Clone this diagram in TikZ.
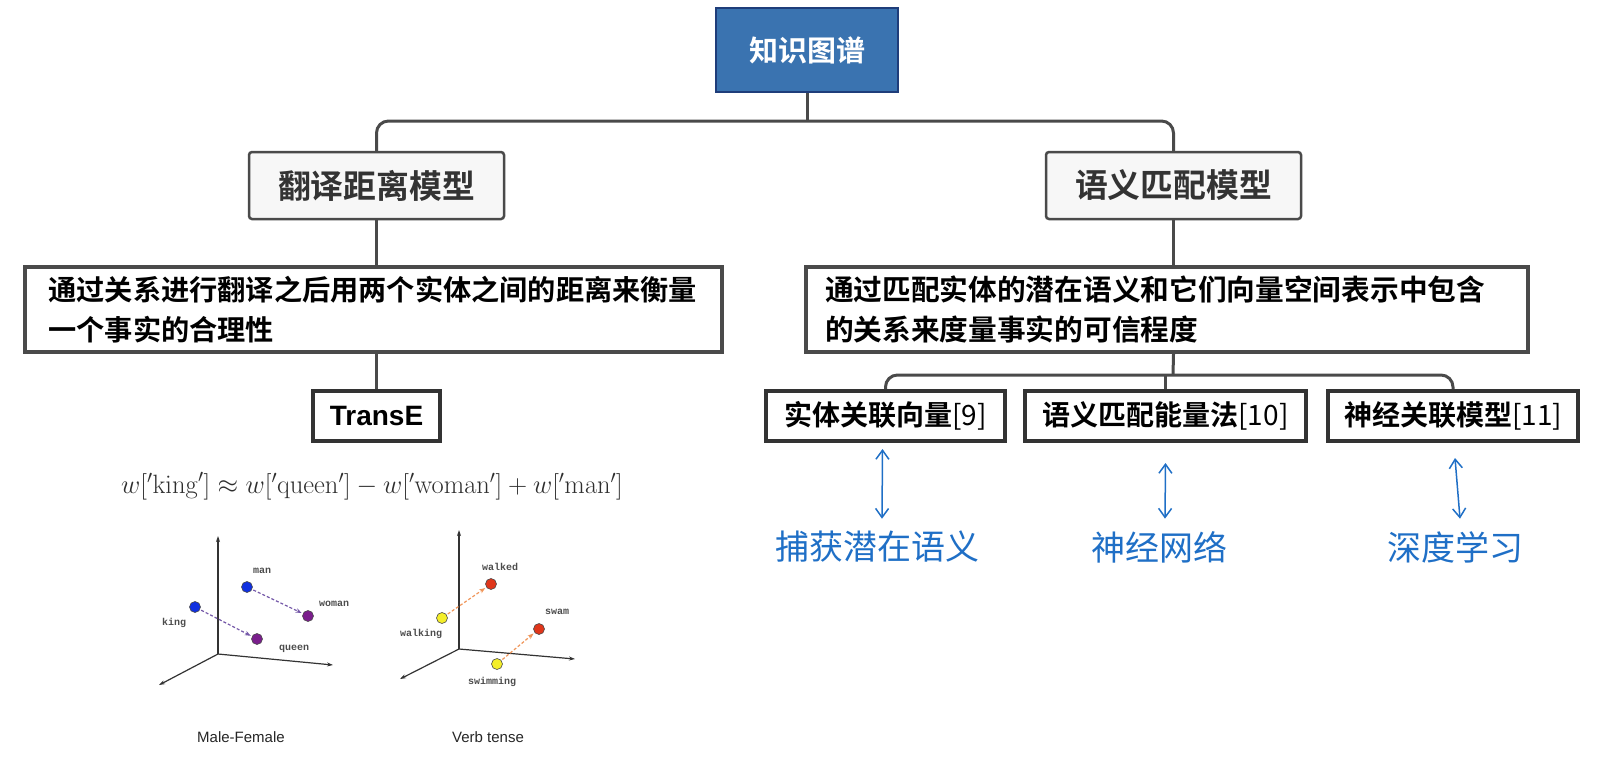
\documentclass[tikz,border=0pt]{standalone}
\usepackage{amsmath}
\usepackage[no-math]{fontspec}
\setmainfont{Liberation Sans}
\newfontfamily\cjk{Noto Sans CJK SC}[BoldFont=* Bold]
\newfontfamily\monof{Liberation Mono}
\usetikzlibrary{calc}
\usetikzlibrary{arrows.meta}
\definecolor{kgblue}{HTML}{3A73B0}
\definecolor{kgedge}{HTML}{1F3D7A}
\definecolor{linegray}{HTML}{4A4A4A}
\definecolor{boxfill}{HTML}{F7F7F7}
\definecolor{noteblue}{HTML}{1F6FC6}
\definecolor{dotblue}{HTML}{1030E0}
\definecolor{dotpurple}{HTML}{7A1E8C}
\definecolor{dotred}{HTML}{E0361A}
\definecolor{dotyellow}{HTML}{F4EE2A}
\definecolor{vecpurple}{HTML}{7458A8}
\definecolor{vecorange}{HTML}{F0965A}

\begin{document}
\begin{tikzpicture}[x=1pt,y=-1pt]
	\tikzset{
		edge/.style={draw=linegray, line width=3pt, rounded corners=12pt},
		kgbox/.style={draw=kgedge, fill=kgblue, line width=2pt, text=white, inner sep=0pt,
			minimum width=182pt, minimum height=84pt, font=\cjk\bfseries\fontsize{29}{35}\selectfont},
		modelbox/.style={draw=linegray, fill=boxfill, line width=2.5pt, rounded corners=3pt, text=black!80,
			inner sep=0pt, minimum width=255pt, minimum height=67pt, font=\cjk\bfseries\fontsize{32.8}{38}\selectfont},
		descbox/.style={draw=linegray, fill=white, line width=4pt, align=left, inner ysep=0pt,
			minimum height=85pt, font=\cjk\bfseries\fontsize{28.7}{40}\selectfont},
		leafbox/.style={draw=black!80, fill=white, line width=4pt, inner sep=0pt,
			minimum height=50pt, font=\cjk\bfseries\fontsize{28}{34}\selectfont},
		note/.style={text=noteblue, font=\cjk\fontsize{34}{40}\selectfont},
		twoway/.style={draw=noteblue, line width=1.5pt, {Straight Barb[length=9pt,width=13pt]}-{Straight Barb[length=9pt,width=13pt]}},
		axis/.style={draw=black!80, line width=1.2pt, -{Stealth[length=6pt,width=4pt]}},
		vec/.style={line width=1.2pt, dash pattern=on 3pt off 2pt, shorten <=7pt, shorten >=7pt, -{Stealth[length=6pt]}},
		dot/.style={draw=black!70, line width=0.6pt},
		word/.style={text=black!70, font=\monof\bfseries\fontsize{10}{12}\selectfont},
		caption/.style={text=black!85, font=\fontsize{15}{18}\selectfont}
	}
	\useasboundingbox (0,0) rectangle (1624,766);
	% tree
	\node[kgbox] (kg) at (807,50) {知识图谱};
	\node[modelbox] (fy) at (376.5,185.5) {翻译距离模型};
	\node[modelbox] (yy) at (1173.5,185.5) {语义匹配模型};
	\node[descbox, text width=650pt, inner xsep=23.5pt, font=\cjk\bfseries\fontsize{28.2}{40}\selectfont] (ldesc) at (373.5,309.5)
		{通过关系进行翻译之后用两个实体之间的距离来衡量\\一个事实的合理性};
	\node[descbox, text width=684pt, inner xsep=19pt] (rdesc) at (1167,309.5)
		{通过匹配实体的潜在语义和它们向量空间表示中包含\\的关系来度量事实的可信程度};
	\node[leafbox, minimum width=127pt, font=\bfseries\fontsize{28}{34}\selectfont] (te) at (376.5,415.5) {TransE};
	\node[leafbox, minimum width=239pt] (b1) at (885.5,416) {实体关联向量{\mdseries[9]}};
	\node[leafbox, minimum width=281pt] (b2) at (1165.5,416) {语义匹配能量法{\mdseries[10]}};
	\node[leafbox, minimum width=250pt] (b3) at (1453,416) {神经关联模型{\mdseries[11]}};
	\coordinate (bar) at (807,121);
	\coordinate (bar2) at (1173,375);
	\draw[edge] (kg.south) -- (bar);
	\draw[edge] (fy.north) |- (bar) -| (yy.north);
	\draw[edge] (fy.south) -- (fy.south |- ldesc.north);
	\draw[edge] (fy.south |- ldesc.south) -- (te.north);
	\draw[edge] (yy.south) -- (yy.south |- rdesc.north);
	\draw[edge] (yy.south |- rdesc.south) -- (bar2);
	\draw[edge] (b1.north) |- (bar2) -| (b3.north);
	\draw[edge] (b2.north) -- (b2.north |- bar2);
	% notes
	\node[note] (n1) at (877,547) {捕获潜在语义};
	\node[note] (n2) at (1159,547) {神经网络};
	\node[note] (n3) at (1455,547) {深度学习};
	\draw[twoway] ([xshift=-3pt,yshift=-6pt]b1.south) -- ([xshift=5pt,yshift=9pt]n1.north);
	\draw[twoway] ([yshift=-20pt]b2.south) -- ([xshift=6pt,yshift=9pt]n2.north);
	\draw[twoway] ([xshift=2pt,yshift=-15pt]b3.south) -- ([xshift=5pt,yshift=9pt]n3.north);
	% word vectors
	\node[text=black!82, font=\fontsize{23}{28}\selectfont, scale=1.065] (eq) at (372,486)
		{$w[{}'\mathrm{king}'] \approx w[{}'\mathrm{queen}'] - w[{}'\mathrm{woman}'] + w[{}'\mathrm{man}']$};
	\coordinate (mo) at (218,654);
	\draw[axis] (mo) -- (218,536);
	\draw[axis] (mo) -- (333,665);
	\draw[axis] (mo) -- (159,685);
	\coordinate (king) at (195,607);
	\coordinate (man) at (247,587);
	\coordinate (woman) at (308,616);
	\coordinate (queen) at (257,639);
	\draw[vec, vecpurple] (king) -- (queen);
	\draw[vec, vecpurple] (man) -- (woman);
	\filldraw[dot, fill=dotblue] (king) circle (5.5pt);
	\filldraw[dot, fill=dotblue] (man) circle (5.5pt);
	\filldraw[dot, fill=dotpurple] (woman) circle (5.5pt);
	\filldraw[dot, fill=dotpurple] (queen) circle (5.5pt);
	\node[word] at (174,623) {king};
	\node[word] at (262,571) {man};
	\node[word] at (334,604) {woman};
	\node[word] at (294,649) {queen};
	\node[caption] at (241,737) {Male-Female};
	\coordinate (vo) at (459,649);
	\draw[axis] (vo) -- (459,530);
	\draw[axis] (vo) -- (575,659);
	\draw[axis] (vo) -- (400,679);
	\coordinate (walking) at (442,618);
	\coordinate (walked) at (491,584);
	\coordinate (swimming) at (497,664);
	\coordinate (swam) at (539,629);
	\draw[vec, vecorange] (walking) -- (walked);
	\draw[vec, vecorange] (swimming) -- (swam);
	\filldraw[dot, fill=dotyellow] (walking) circle (5.5pt);
	\filldraw[dot, fill=dotred] (walked) circle (5.5pt);
	\filldraw[dot, fill=dotyellow] (swimming) circle (5.5pt);
	\filldraw[dot, fill=dotred] (swam) circle (5.5pt);
	\node[word] at (500,567) {walked};
	\node[word] at (421,634) {walking};
	\node[word] at (557,612) {swam};
	\node[word] at (492,682) {swimming};
	\node[caption] at (488,737) {Verb tense};
\end{tikzpicture}
\end{document}
